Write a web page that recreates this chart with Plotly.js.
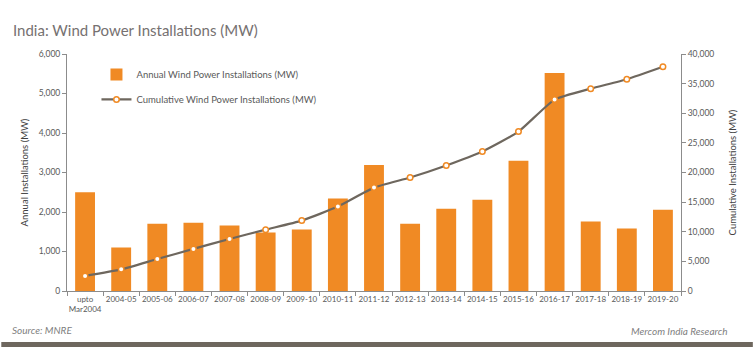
<!DOCTYPE html>
<html>
<head>
<meta charset="utf-8">
<script src="https://cdn.plot.ly/plotly-3.0.1.min.js"></script>
<style>html,body{margin:0;padding:0;background:#fff;}#chart{width:754px;height:350px;}</style>
</head>
<body>
<div id="chart"></div>
<script>
const categories = ["upto<br>Mar2004","2004-05","2005-06","2006-07","2007-08","2008-09","2009-10","2010-11","2011-12","2012-13","2013-14","2014-15","2015-16","2016-17","2017-18","2018-19","2019-20"];
const annual = [2500,1100,1700,1730,1660,1480,1560,2340,3190,1700,2084,2310,3300,5520,1760,1580,2060];
const cumulative = [2550,3650,5400,7100,8780,10350,11880,14250,17450,19150,21180,23550,26900,32300,34150,35750,37850];

const orange = '#F08A24';
const gray = '#6E675E';
const fam = 'Lato, "Open Sans", sans-serif';
const xTickFont = {family: fam, size: 8, color: '#595959'};
const yTickFont = {family: fam, size: 8.5, color: '#595959'};

const traces = [
  {
    type: 'bar', x: categories, y: annual, name: 'Annual Wind Power Installations (MW)',
    marker: {color: orange}, yaxis: 'y', legendgroup: 'a'
  },
  {
    type: 'scatter', mode: 'lines+markers', x: categories, y: cumulative, yaxis: 'y2',
    name: 'Cumulative Wind Power Installations (MW)', legendgroup: 'b',
    line: {color: gray, width: 2.2, shape: 'spline', smoothing: 0.5},
    marker: {color: '#ffffff', size: 5.5, line: {color: orange, width: 1.5}}
  }
];

const layout = {
  width: 754, height: 350,
  margin: {l: 67, r: 73, t: 54, b: 59},
  paper_bgcolor: '#ffffff', plot_bgcolor: '#ffffff',
  bargap: 0.45,
  showlegend: true,
  legend: {
    x: 0.048, y: 0.975, xanchor: 'left', yanchor: 'top',
    bgcolor: 'rgba(0,0,0,0)', tracegroupgap: 6,
    font: {family: fam, size: 9.5, color: '#595959'}
  },
  xaxis: {
    type: 'category', range: [-0.5, categories.length - 0.5], autorange: false,
    tickson: 'boundaries', ticks: 'outside', ticklen: 4,
    tickcolor: '#8c8c8c', showline: true, linecolor: '#8c8c8c', linewidth: 1,
    showgrid: false, tickfont: xTickFont, tickangle: 0, fixedrange: true
  },
  yaxis: {
    range: [0, 6000], dtick: 1000, tickformat: ',d', ticks: 'outside', ticklen: 4,
    tickcolor: '#8c8c8c', showline: true, linecolor: '#8c8c8c', showgrid: false,
    zeroline: false, tickfont: yTickFont,
    title: {text: 'Annual Installations (MW)', standoff: 8,
            font: {family: fam, size: 9.5, color: '#404040'}}
  },
  yaxis2: {
    overlaying: 'y', side: 'right', range: [0, 40000], dtick: 5000, tickformat: ',d',
    ticks: 'outside', ticklen: 4, tickcolor: '#8c8c8c', showline: true, linecolor: '#8c8c8c',
    showgrid: false, zeroline: false, tickfont: yTickFont,
    title: {text: 'Cumulative Installations (MW)', standoff: 16,
            font: {family: fam, size: 9.5, color: '#404040'}}
  },
  shapes: [
    {type: 'rect', xref: 'paper', yref: 'paper', x0: -0.107, x1: 1.117, y0: 1.228, y1: 1.3,
     fillcolor: orange, line: {width: 0}, layer: 'below'},
    {type: 'rect', xref: 'paper', yref: 'paper', x0: -0.107, x1: 1.117, y0: -0.236, y1: -0.215,
     fillcolor: gray, line: {width: 0}, layer: 'below'}
  ],
  annotations: [
    {xref: 'paper', yref: 'paper', x: -0.091, y: 1.1, xanchor: 'left', yanchor: 'middle',
     text: 'India: Wind Power Installations (MW)', showarrow: false,
     font: {family: fam, size: 15, color: '#767171'}},
    {xref: 'paper', yref: 'paper', x: -0.093, y: -0.165, xanchor: 'left', yanchor: 'middle',
     text: '<i>Source: MNRE</i>', showarrow: false,
     font: {family: fam, size: 10, color: '#7f7f7f'}},
    {xref: 'paper', yref: 'paper', x: 1.08, y: -0.168, xanchor: 'right', yanchor: 'middle',
     text: '<i>Mercom India Research</i>', showarrow: false,
     font: {family: fam, size: 10, color: '#7f7f7f'}}
  ]
};

Plotly.newPlot('chart', traces, layout, {displayModeBar: false, staticPlot: true});
</script>
</body>
</html>
